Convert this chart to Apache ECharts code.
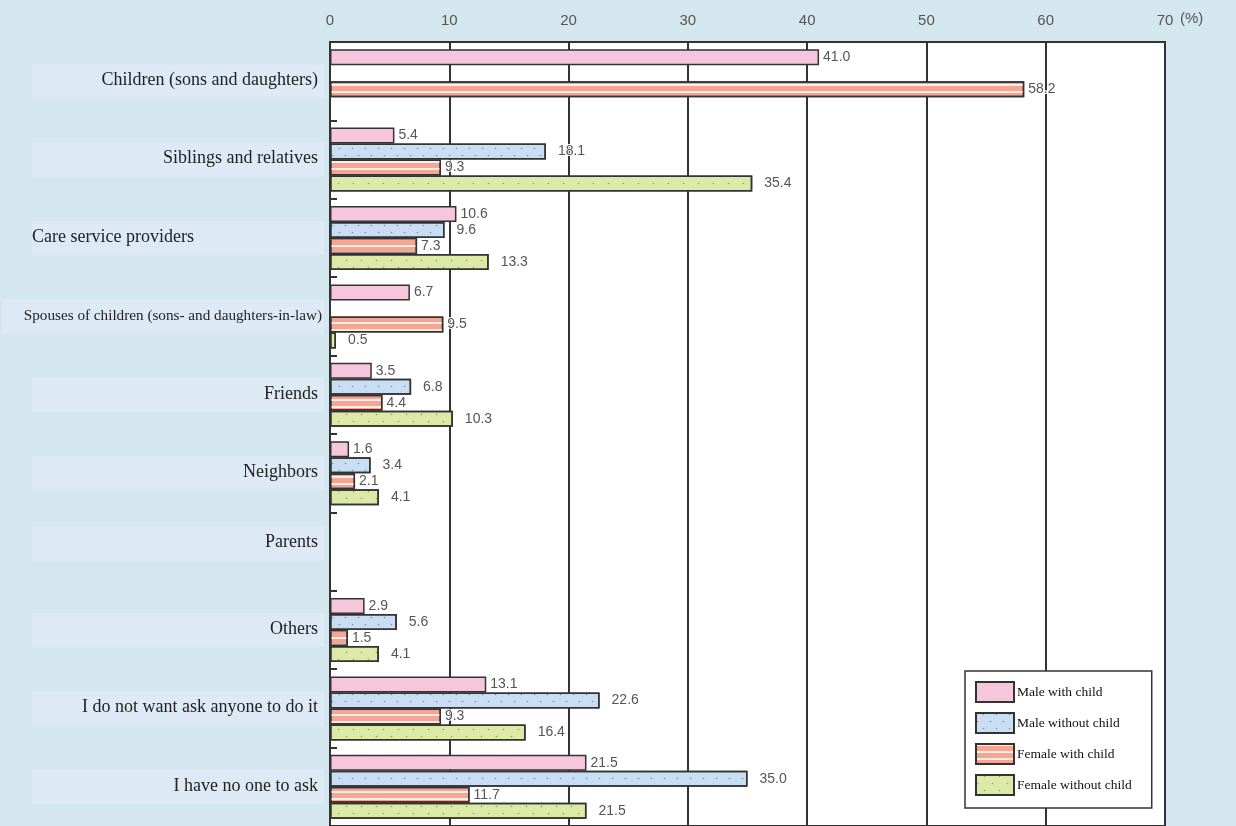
<!DOCTYPE html>
<html>
<head>
<meta charset="utf-8">
<script src="https://cdn.jsdelivr.net/npm/echarts@6/dist/echarts.min.js"></script>
<style>
html,body{margin:0;padding:0;background:#d4e7ee;}
#chart{width:1236px;height:826px;}
</style>
</head>
<body>
<div id="chart"></div>
<script>
const categories = [
  'Children (sons and daughters)',
  'Siblings and relatives',
  'Care service providers',
  'Spouses of children (sons- and daughters-in-law)',
  'Friends',
  'Neighbors',
  'Parents',
  'Others',
  'I do not want ask anyone to do it',
  'I have no one to ask'
];
const seriesNames = ['Male with child', 'Male without child', 'Female with child', 'Female without child'];
const maleWithChild = [41.0, 5.4, 10.6, 6.7, 3.5, 1.6, null, 2.9, 13.1, 21.5];
const maleWithoutChild = [null, 18.1, 9.6, null, 6.8, 3.4, null, 5.6, 22.6, 35.0];
const femaleWithChild = [58.2, 9.3, 7.3, 9.5, 4.4, 2.1, null, 1.5, 9.3, 11.7];
const femaleWithoutChild = [null, 35.4, 13.3, 0.5, 10.3, 4.1, null, 4.1, 16.4, 21.5];
const xTicks = [0, 10, 20, 30, 40, 50, 60, 70];

const chart = echarts.init(document.getElementById('chart'), null, {renderer: 'canvas'});

const fills = ['#f6c6dc', '#c9def3', '#f7a593', '#dde9a6'];
const decals = [
  null,
  {symbol: 'circle', symbolSize: 0.55, rotation: 0, dashArrayX: [[3, 10], [0, 6, 3, 4]], dashArrayY: [3, 4], color: 'rgba(100,130,170,0.85)'},
  {symbol: 'rect', symbolSize: 1, rotation: 0, dashArrayX: [1, 0], dashArrayY: [2, 5], color: 'rgba(255,255,255,0.8)'},
  {symbol: 'circle', symbolSize: 0.55, rotation: 0, dashArrayX: [[3, 12], [0, 7, 3, 5]], dashArrayY: [3, 4], color: 'rgba(120,160,70,0.85)'}
];
const labelDist = [4, 12, 4, 12];
const dataSets = [maleWithChild, maleWithoutChild, femaleWithChild, femaleWithoutChild];

const series = dataSets.map((d, i) => {
  const itemStyle = {color: fills[i], borderColor: '#333', borderWidth: 1.5};
  if (decals[i]) itemStyle.decal = decals[i];
  return {
    name: seriesNames[i],
    type: 'bar',
    data: d,
    barWidth: 16,
    barGap: '0%',
    itemStyle: itemStyle,
    label: {
      show: true,
      position: 'right',
      distance: labelDist[i],
      formatter: p => p.value == null ? '' : Number(p.value).toFixed(1),
      color: '#555',
      fontFamily: 'Liberation Sans',
      fontSize: 14,
      textBorderColor: '#fff',
      textBorderWidth: 2
    }
  };
});

const boxBg = '#dde9f4';
chart.setOption({
  backgroundColor: '#d4e7ee',
  animation: false,
  grid: {
    left: 330, right: 71, top: 42, bottom: 0,
    containLabel: false,
    outerBoundsMode: 'none',
    show: true, backgroundColor: '#fff', borderColor: '#333', borderWidth: 2
  },
  legend: {
    orient: 'vertical',
    left: 965, top: 671,
    backgroundColor: '#fff',
    borderColor: '#333',
    borderWidth: 1.5,
    padding: [10, 20, 12, 10],
    itemGap: 9,
    itemWidth: 38,
    itemHeight: 20,
    icon: 'rect',
    data: seriesNames,
    textStyle: {fontFamily: 'Liberation Serif', fontSize: 13.5, color: '#111', padding: [0, 0, 0, -2]}
  },
  xAxis: {
    type: 'value',
    position: 'top',
    min: 0, max: 70, interval: 10,
    name: '(%)',
    nameLocation: 'end',
    nameGap: 15,
    nameTextStyle: {color: '#555', fontFamily: 'Liberation Sans', fontSize: 15, verticalAlign: 'bottom', lineHeight: 46},
    axisLine: {show: true, lineStyle: {color: '#333', width: 2}},
    axisTick: {show: false},
    axisLabel: {color: '#555', fontFamily: 'Liberation Sans', fontSize: 15, margin: 14},
    splitLine: {show: true, lineStyle: {color: '#333', width: 2}}
  },
  yAxis: {
    type: 'category',
    inverse: true,
    data: categories,
    axisLine: {show: true, lineStyle: {color: '#333', width: 2}},
    axisTick: {show: true, inside: true, length: 7, lineStyle: {color: '#333', width: 2}},
    splitLine: {show: false},
    axisLabel: {
      interval: 0,
      margin: 6,
      formatter: (v, idx) => {
        if (idx === 2) return '{l|' + v + '}';
        if (idx === 3) return '{s|' + v + '}';
        if (idx === 6) return '{r|' + v + '}\n{sp| }';
        return '{r|' + v + '}';
      },
      rich: {
        r: {fontFamily: 'Liberation Serif', fontSize: 18, color: '#222', width: 286, height: 24, padding: [4, 6, 6, 0], align: 'right', backgroundColor: boxBg},
        l: {fontFamily: 'Liberation Serif', fontSize: 18, color: '#222', width: 292, height: 24, padding: [4, 0, 6, 0], align: 'left', backgroundColor: boxBg},
        s: {fontFamily: 'Liberation Serif', fontSize: 15.2, color: '#222', width: 320, height: 24, padding: [5, 2, 5, 0], align: 'right', backgroundColor: boxBg},
        sp: {fontSize: 4, height: 16}
      }
    }
  },
  series: series
});
</script>
</body>
</html>
